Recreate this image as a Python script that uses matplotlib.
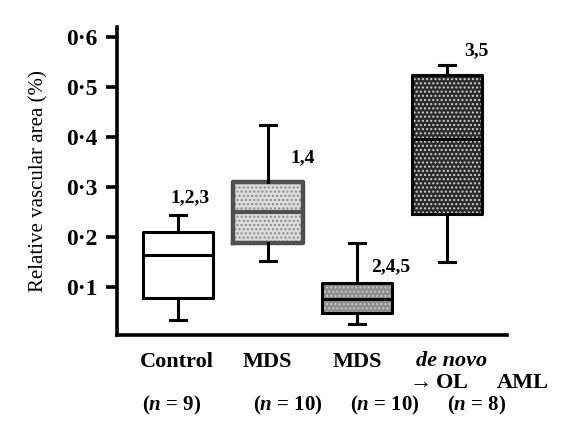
import matplotlib
matplotlib.use("Agg")
import matplotlib.pyplot as plt
from matplotlib.ticker import FuncFormatter

plt.rcParams['font.family'] = ['Liberation Serif', 'DejaVu Serif']
plt.rcParams['mathtext.fontset'] = 'custom'
plt.rcParams['mathtext.it'] = 'Liberation Serif:italic:bold'
plt.rcParams['mathtext.rm'] = 'Liberation Serif:bold'

# five-number summaries per group
groups = ['Control', 'MDS', 'MDS\u2192OL', 'de novo AML']
n_counts = [9, 10, 10, 8]
whislo = [0.034, 0.152, 0.026, 0.150]
q1 = [0.078, 0.188, 0.048, 0.246]
med = [0.164, 0.250, 0.076, 0.396]
q3 = [0.210, 0.310, 0.108, 0.524]
whishi = [0.244, 0.424, 0.188, 0.544]
sig_labels = ['1,2,3', '1,4', '2,4,5', '3,5']
yticks = [0.1, 0.2, 0.3, 0.4, 0.5, 0.6]

fills = ['white', '#dcdcdc', '#8c8c8c', '#2a2a2a']
hatch_cols = ['white', '#8a8a8a', '#c8c8c8', '#d0d0d0']
hatches = [None, '....', '....', '....']
edges = ['black', '#505050', 'black', 'black']

stats = [dict(label=g, whislo=a, q1=b, med=c, q3=d, whishi=e, fliers=[])
         for g, a, b, c, d, e in zip(groups, whislo, q1, med, q3, whishi)]
pos = [1, 2, 3, 4]

fig = plt.figure(figsize=(5.71, 4.21), dpi=100)
ax = fig.add_axes([0.205, 0.204, 0.683, 0.732])

# pass 1: filled, hatched boxes
bp = ax.bxp(stats, positions=pos, widths=0.78, patch_artist=True,
            showcaps=False, boxprops=dict(linewidth=0),
            whiskerprops=dict(linewidth=0), medianprops=dict(linewidth=0))
for box, fc, hc, h in zip(bp['boxes'], fills, hatch_cols, hatches):
    box.set_facecolor(fc)
    box.set_edgecolor(hc)
    if h:
        box.set_hatch(h)

# pass 2: outlines, whiskers, caps and medians
bp2 = ax.bxp(stats, positions=pos, widths=0.78, patch_artist=False,
             capwidths=0.18,
             boxprops=dict(linewidth=2.2, color='black'),
             whiskerprops=dict(linewidth=2.2, color='black'),
             capprops=dict(linewidth=2.2, color='black'),
             medianprops=dict(linewidth=2.2, color='black'))
for line, ec in zip(bp2['boxes'], edges):
    line.set_color(ec)
    if ec != 'black':
        line.set_linewidth(3.2)
for line, ec in zip(bp2['medians'], edges):
    line.set_color(ec)
    if ec != 'black':
        line.set_linewidth(3.0)

# significance markers above each group
offs = [(0.13, 0.034), (0.39, -0.066), (0.37, -0.048), (0.33, 0.028)]
for p, top, lab, (dx, dy) in zip(pos, whishi, sig_labels, offs):
    ax.text(p + dx, top + dy, lab, ha='center', va='center',
            fontsize=14, fontweight='bold')

ax.set_xlim(0.32, 4.67)
ax.set_ylim(0.004, 0.62)
ax.set_yticks(yticks)
ax.yaxis.set_major_formatter(FuncFormatter(lambda v, p: f'{v:.1f}'.replace('.', '\u00b7')))
ax.set_xticks([])
for s in ['top', 'right']:
    ax.spines[s].set_visible(False)
for s in ['left', 'bottom']:
    ax.spines[s].set_linewidth(2.6)
ax.tick_params(axis='y', direction='out', length=8, width=2.6, pad=6,
               labelsize=17)
for t in ax.get_yticklabels():
    t.set_fontweight('bold')
ax.set_ylabel('Relative vascular area (%)', fontsize=15, labelpad=13)

# group labels under the axis
W, H = 571.0, 421.0
def ftxt(x, y, s, size=16, **kw):
    fig.text(x / W, 1 - y / H, s, ha='center', va='center',
             fontsize=size, fontweight='bold', **kw)

ftxt(177, 362, 'Control')
ftxt(267, 362, 'MDS')
ftxt(357, 362, 'MDS')
ftxt(452, 361, 'de novo', style='italic')
ftxt(437, 383, r'$\rightarrow$OL')
ftxt(523, 383, 'AML')
for x, n in zip([172, 288, 385, 477], n_counts):
    ftxt(x, 405, f'($n$ = {n})', size=15)

fig.savefig('out.png', dpi=100, facecolor='white')
